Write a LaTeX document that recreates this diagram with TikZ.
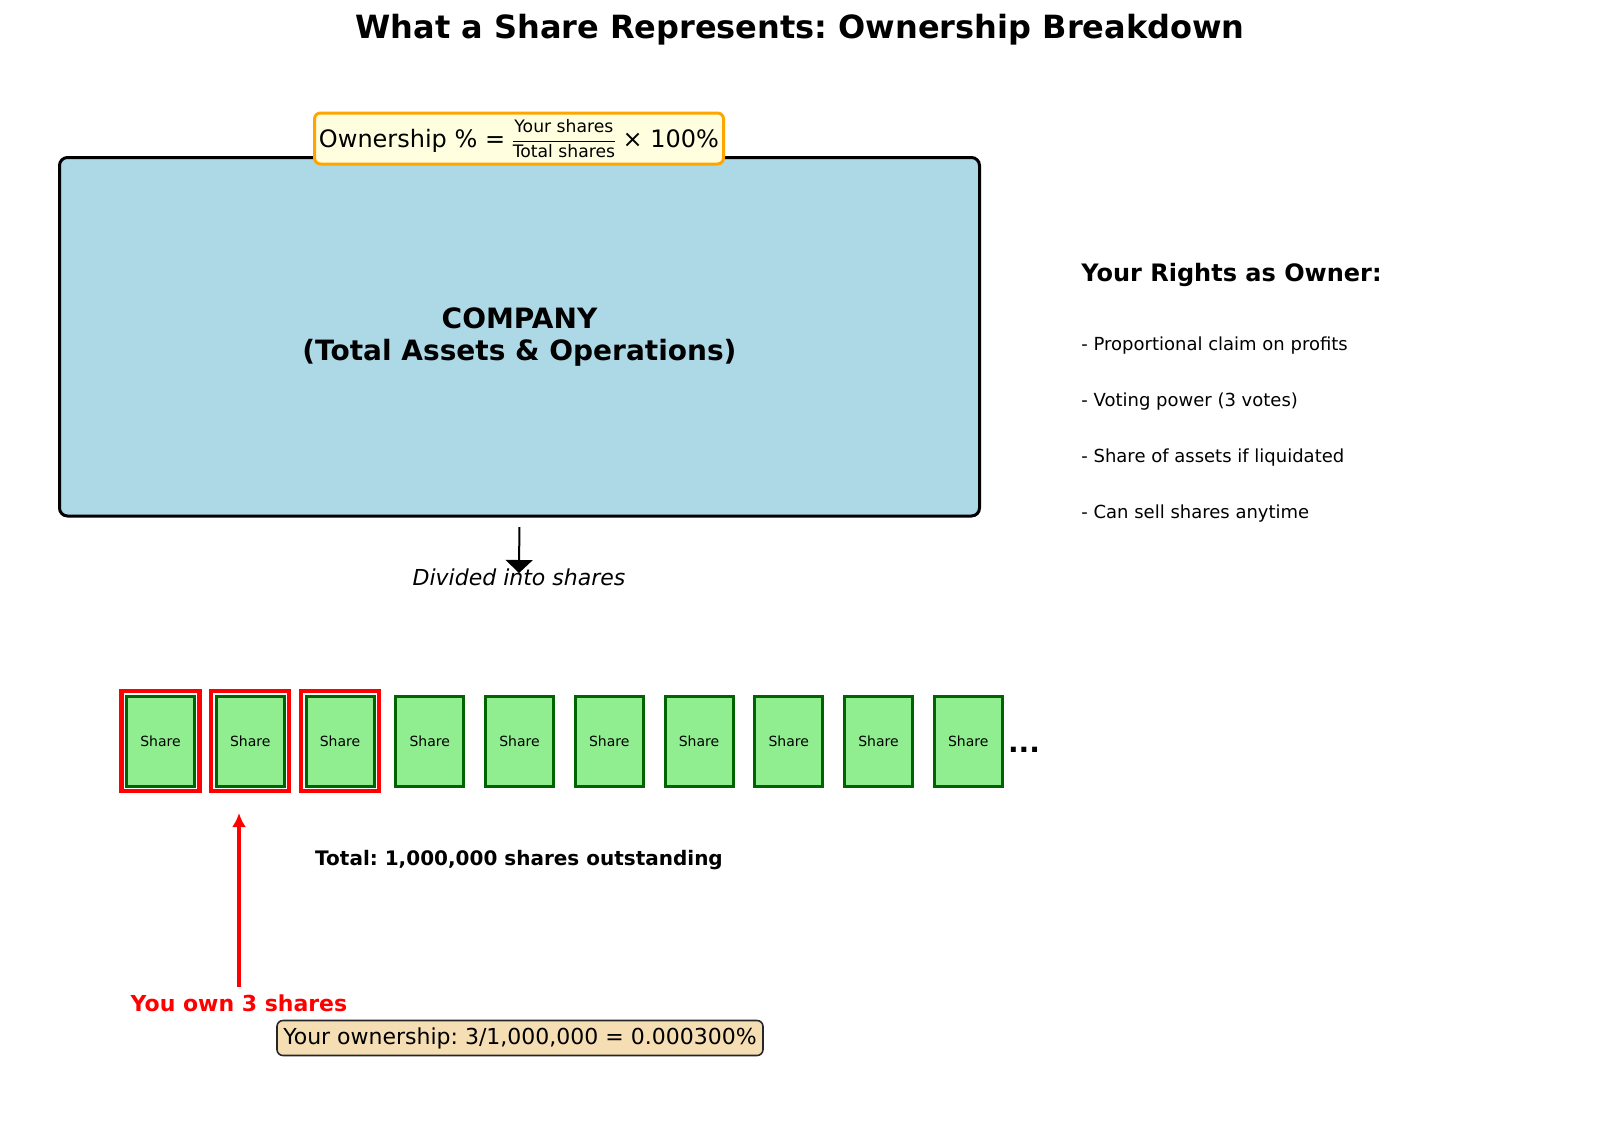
\documentclass[tikz,border=0pt]{standalone}
\usepackage{fontspec}
\setmainfont{DejaVu Sans}
\usetikzlibrary{arrows.meta, positioning, calc}
\definecolor{companyblue}{HTML}{ADD8E6}
\definecolor{formulafill}{HTML}{FFFFE0}
\definecolor{formulaedge}{HTML}{FFA500}
\definecolor{sharefill}{HTML}{90EE90}
\definecolor{shareedge}{HTML}{006400}
\definecolor{ownfill}{HTML}{F5DEB3}
\frenchspacing

\begin{document}
\begin{tikzpicture}[
    x=0.5pt, y=-0.5pt,
    >={Stealth},
    base/.style={align=center, inner sep=0pt},
    company/.style={base, draw=black, line width=1.5pt, rounded corners=4pt, fill=companyblue, minimum width=460pt, minimum height=179.25pt, font=\fontsize{14}{16}\selectfont\bfseries},
    formula/.style={base, draw=formulaedge, line width=1.5pt, rounded corners=3pt, fill=formulafill, minimum width=204.5pt, minimum height=25.5pt, font=\fontsize{12}{14}\selectfont},
    share/.style={base, draw=shareedge, fill=sharefill, line width=1.5pt, minimum width=34pt, minimum height=45pt, font=\fontsize{7}{8}\selectfont},
    owned/.style={base, draw=red, line width=2.2pt, minimum width=39pt, minimum height=50pt},
    result/.style={base, draw=black!85, line width=0.8pt, rounded corners=3pt, fill=ownfill, minimum width=243pt, minimum height=17.5pt, font=\fontsize{11}{13}\selectfont},
    heading/.style={base, anchor=west, font=\fontsize{12}{14}\selectfont\bfseries},
    item/.style={base, anchor=west, font=\fontsize{9}{11}\selectfont},
    arrow/.style={-{Triangle[width=13.5pt, length=6.5pt]}, line width=1pt, black},
    ownarrow/.style={-{Latex[width=7pt, length=7pt]}, line width=1.6pt, red}
  ]
    \useasboundingbox (0,0) rectangle (1600,1137);
    \node[base, font=\fontsize{16}{19}\selectfont\bfseries] (title) at (800,30)
    {What a Share Represents: Ownership Breakdown};

    % company and formula
    \node[company] (company) at (519.5,336.75) {COMPANY\\(Total Assets \& Operations)};
    \node[formula] (formula) at (519,138.5)
    {\raisebox{0pt}[\dimexpr\height+2.5pt][\depth]{Ownership \% = $\vcenter{\hbox{\fontsize{8.6}{10}\selectfont
      \begin{tabular}{@{}c@{}}Your shares\\[1pt]\hline\rule{0pt}{8pt}Total shares\end{tabular}}}$ × 100\%}};

    \node[base, font=\fontsize{11}{13}\selectfont\itshape] (divided) at (519,577) {Divided into shares};
    \coordinate (divtip) at (519,573);
    \draw[arrow, shorten <=4.75pt] (company.south) -- (divtip);

    % shares
    \foreach \i in {1,2,3} {
      \node[owned] (own\i) at ({160.5+89.75*(\i-1)},741) {};
    }
    \foreach \i in {1,...,10} {
      \node[share] (share\i) at ({160.5+89.75*(\i-1)},741) {Share};
    }
    \node[base, anchor=base, font=\fontsize{14}{16}\selectfont\bfseries] (more) at (1024,752) {...};

    \node[base, font=\fontsize{10}{12}\selectfont\bfseries] (total) at (519,860) {Total: 1,000,000 shares outstanding};

    \node[base, text=red, font=\fontsize{11}{13}\selectfont\bfseries] (youown) at (239,1003) {You own 3 shares};
    \coordinate (owntip) at (239,813);
    \draw[ownarrow, shorten <=3.5pt] (youown.north) -- (owntip);

    \node[result] (ownership) at (520,1038) {Your ownership: 3/1,000,000 = 0.000300\%};

    % rights
    \node[heading] (rights) at (1081,275) {Your Rights as Owner:};
    \node[item] (right1) at (1081,346) {- Proportional claim on profits};
    \node[item] (right2) at (1081,402) {- Voting power (3 votes)};
    \node[item] (right3) at (1081,458) {- Share of assets if liquidated};
    \node[item] (right4) at (1081,514) {- Can sell shares anytime};
  \end{tikzpicture}
\end{document}
